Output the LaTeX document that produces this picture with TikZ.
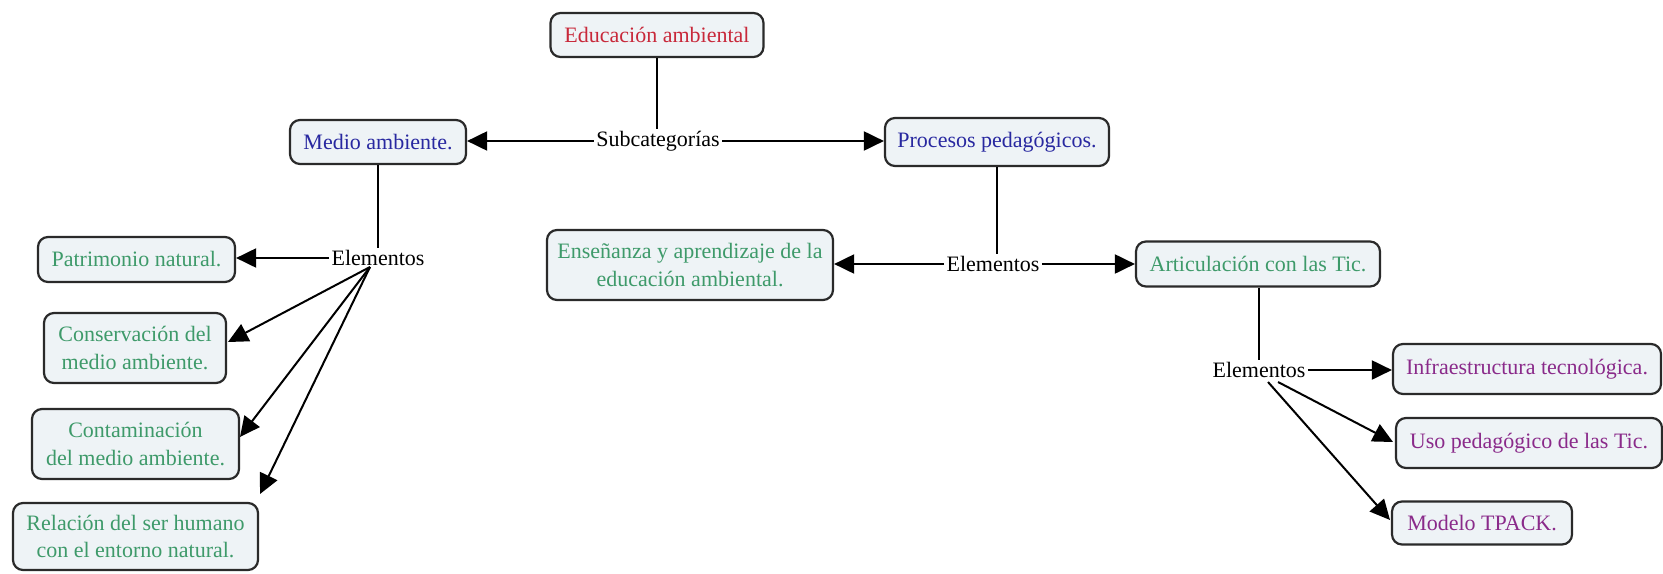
\documentclass[tikz,border=0pt]{standalone}
\usepackage{fontspec}
\setmainfont{Liberation Serif}
\usetikzlibrary{arrows.meta}
\definecolor{boxfill}{HTML}{EEF3F6}
\definecolor{boxline}{HTML}{2A2A2A}
\definecolor{tred}{HTML}{C8283A}
\definecolor{tblue}{HTML}{2828A0}
\definecolor{tgreen}{HTML}{3E9A6A}
\definecolor{tpurple}{HTML}{8A2A8A}
\begin{document}
\begin{tikzpicture}[x=0.5pt,y=-0.5pt,
  font=\fontsize{11pt}{13.6pt}\selectfont,
  concept/.style={draw=boxline,line width=1.1pt,fill=boxfill,rounded corners=5pt,
    align=center,inner sep=0pt},
  linker/.style={inner sep=1pt,text=black},
  conn/.style={line width=1pt,draw=black},
  arr/.style={conn,-{Triangle[length=10pt,width=9.5pt]}}]
\useasboundingbox (0,0) rectangle (1663,573);

% concepts
\node[concept,text=tred,minimum width=106.5pt,minimum height=22pt] (edu) at (657,35) {Educación ambiental};
\node[concept,text=tblue,minimum width=88pt,minimum height=22pt] (medio) at (378,142) {Medio ambiente.};
\node[concept,text=tblue,minimum width=112pt,minimum height=24pt] (proc) at (997,142) {Procesos pedagógicos.};

\node[concept,text=tgreen,minimum width=98.5pt,minimum height=22.5pt] (patr) at (136.5,259.5) {Patrimonio natural.};
\node[concept,text=tgreen,minimum width=91pt,minimum height=35pt] (cons) at (135,348) {Conservación del\\medio ambiente.};
\node[concept,text=tgreen,minimum width=103.5pt,minimum height=35pt] (cont) at (135.5,444) {Contaminación\\del medio ambiente.};
\node[concept,text=tgreen,minimum width=122.5pt,minimum height=33.5pt] (rel) at (135.5,536.5) {Relación del ser humano\\con el entorno natural.};

\node[concept,text=tgreen,minimum width=143pt,minimum height=35pt] (ens) at (690,265) {Enseñanza y aprendizaje de la\\educación ambiental.};
\node[concept,text=tgreen,minimum width=122pt,minimum height=22.5pt] (art) at (1258,264) {Articulación con las Tic.};

\node[concept,text=tpurple,minimum width=134pt,minimum height=25pt] (infra) at (1527,369) {Infraestructura tecnológica.};
\node[concept,text=tpurple,minimum width=133pt,minimum height=25pt] (uso) at (1529,443) {Uso pedagógico de las Tic.};
\node[concept,text=tpurple,minimum width=90pt,minimum height=21.5pt] (tpack) at (1482,523) {Modelo TPACK.};

% linking phrases
\node[linker] (sub) at (658,141) {Subcategorías};
\node[linker] (el1) at (378,258) {Elementos};
\node[linker] (el2) at (993,264) {Elementos};
\node[linker] (el3) at (1259,370) {Elementos};

% connector ends
\coordinate (el1b) at (370,267);
\coordinate (el3a) at (1278,382);
\coordinate (el3b) at (1268,382);
\coordinate (consT) at (228,342);
\coordinate (contT) at (240,437);
\coordinate (relT) at (260,494);
\coordinate (usoT) at (1393,442);
\coordinate (tpackT) at (1390,520);

% top level
\draw[conn] (edu.south) -- (edu.south |- sub.north);
\draw[arr] (sub.west) -- (sub.west -| medio.east);
\draw[arr] (sub.east) -- (sub.east -| proc.west);

% medio ambiente branch
\draw[conn] (medio.south -| el1.north) -- (el1.north);
\draw[arr] (el1.west) -- (el1.west -| patr.east);
\draw[arr] (el1b) -- (consT);
\draw[arr] (el1b) -- (contT);
\draw[arr] (el1b) -- (relT);

% procesos pedagogicos branch
\draw[conn] (proc.south) -- (proc.south |- el2.north);
\draw[arr] (el2.west) -- (el2.west -| ens.east);
\draw[arr] (el2.east) -- (el2.east -| art.west);

% articulacion branch
\draw[conn] (art.south -| el3.north) -- (el3.north);
\draw[arr] (el3.east) -- (el3.east -| infra.west);
\draw[arr] (el3a) -- (usoT);
\draw[arr] (el3b) -- (tpackT);
\end{tikzpicture}
\end{document}
